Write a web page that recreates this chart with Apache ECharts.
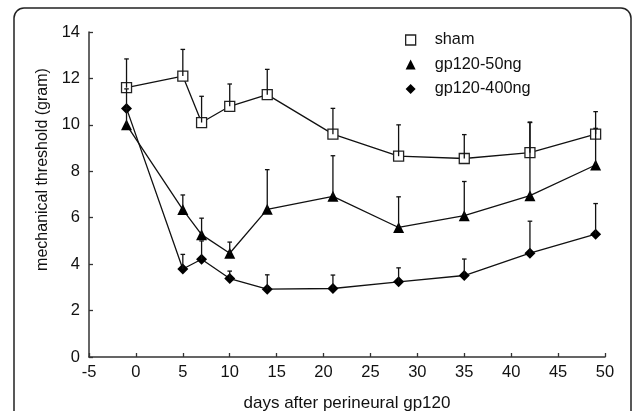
<!DOCTYPE html>
<html>
<head>
<meta charset="utf-8">
<script src="https://cdn.jsdelivr.net/npm/echarts@6/dist/echarts.min.js"></script>
<style>
html, body { margin: 0; padding: 0; background: #fff; }
#chart { width: 633px; height: 411px; }
</style>
</head>
<body>
<div id="chart"></div>
<script>
// days after perineural gp120
var days = [-1, 5, 7, 10, 14, 21, 28, 35, 42, 49];
// mean thresholds (gram)
var sham = [11.6, 12.1, 10.1, 10.8, 11.3, 9.6, 8.65, 8.55, 8.8, 9.6];
var gp50 = [10.0, 6.35, 5.27, 4.47, 6.36, 6.92, 5.58, 6.09, 6.95, 8.27];
var gp400 = [10.71, 3.79, 4.21, 3.38, 2.92, 2.95, 3.24, 3.51, 4.47, 5.29];
// upper error bars (SEM)
var shamErr = [1.24, 1.15, 1.13, 0.96, 1.09, 1.11, 1.35, 1.03, 1.32, 0.97];
var gp50Err = [0.7, 0.63, 0.71, 0.48, 1.71, 1.75, 1.32, 1.47, 3.15, 1.58];
var gp400Err = [0.84, 0.63, 0.79, 0.32, 0.62, 0.58, 0.6, 0.71, 1.38, 1.32];
var xTicks = [-5, 0, 5, 10, 15, 20, 25, 30, 35, 40, 45, 50];
var yTicks = [0, 2, 4, 6, 8, 10, 12, 14];

var font = 'Liberation Sans, Arial, sans-serif';

function pairs(vals) {
  return days.map(function (d, i) { return [d, vals[i]]; });
}
function errData(vals, errs) {
  return days.map(function (d, i) { return [d, vals[i], vals[i] + errs[i]]; });
}
function renderErr(params, api) {
  var p0 = api.coord([api.value(0), api.value(1)]);
  var p1 = api.coord([api.value(0), api.value(2)]);
  var st = { stroke: '#111', lineWidth: 1.3 };
  return {
    type: 'group',
    children: [
      { type: 'line', shape: { x1: p0[0], y1: p0[1], x2: p1[0], y2: p1[1] }, style: st },
      { type: 'line', shape: { x1: p1[0] - 2.3, y1: p1[1], x2: p1[0] + 2.3, y2: p1[1] }, style: st }
    ]
  };
}
function errSeries(vals, errs) {
  return {
    type: 'custom',
    renderItem: renderErr,
    data: errData(vals, errs),
    z: 5,
    silent: true
  };
}

var chart = echarts.init(document.getElementById('chart'));
chart.setOption({
  animation: false,
  backgroundColor: '#fff',
  textStyle: { fontFamily: font },
  graphic: [{
    type: 'rect',
    shape: { x: 14, y: 8, width: 617, height: 430, r: 10 },
    style: { fill: 'none', stroke: '#222', lineWidth: 1.5 },
    z: 0
  }],
  grid: { left: 89, right: 28, top: 32, bottom: 54, outerBoundsMode: 'none' },
  legend: {
    orient: 'vertical',
    left: 400,
    top: 27,
    itemWidth: 10,
    itemHeight: 10,
    itemGap: 8.5,
    textStyle: { fontSize: 16.3, color: '#111', fontFamily: font, padding: [0, 0, 0, 14] },
    data: [
      { name: 'sham', icon: 'rect', itemStyle: { color: '#fff', borderColor: '#222', borderWidth: 1.3 } },
      { name: 'gp120-50ng', icon: 'triangle', itemStyle: { color: '#000' } },
      { name: 'gp120-400ng', icon: 'diamond', itemStyle: { color: '#000' } }
    ]
  },
  xAxis: {
    type: 'value',
    min: xTicks[0],
    max: xTicks[xTicks.length - 1],
    interval: 5,
    name: 'days after perineural gp120',
    nameLocation: 'middle',
    nameGap: 38,
    nameTextStyle: { fontSize: 17, color: '#111', fontFamily: font },
    axisLine: { onZero: false, lineStyle: { color: '#333', width: 1.5 } },
    axisTick: { inside: true, length: 4, lineStyle: { color: '#333', width: 1.3 } },
    axisLabel: { fontSize: 16.5, color: '#111', margin: 7, fontFamily: font },
    splitLine: { show: false }
  },
  yAxis: {
    type: 'value',
    min: yTicks[0],
    max: yTicks[yTicks.length - 1],
    interval: 2,
    name: 'mechanical threshold (gram)',
    nameLocation: 'middle',
    nameGap: 38,
    nameTextStyle: { fontSize: 16, color: '#111', fontFamily: font, padding: [0, 0, 0, 50] },
    axisLine: { onZero: false, lineStyle: { color: '#333', width: 1.5 } },
    axisTick: { inside: true, length: 4, lineStyle: { color: '#333', width: 1.3 } },
    axisLabel: { fontSize: 16.5, color: '#111', margin: 9, fontFamily: font },
    splitLine: { show: false }
  },
  series: [
    {
      name: 'sham', type: 'line', data: pairs(sham),
      symbol: 'rect', symbolSize: 10, showAllSymbol: true,
      lineStyle: { color: '#111', width: 1.3 },
      itemStyle: { color: '#fff', borderColor: '#222', borderWidth: 1.3 },
      z: 3
    },
    {
      name: 'gp120-50ng', type: 'line', data: pairs(gp50),
      symbol: 'triangle', symbolSize: 11, showAllSymbol: true,
      lineStyle: { color: '#111', width: 1.3 },
      itemStyle: { color: '#000' },
      z: 3
    },
    {
      name: 'gp120-400ng', type: 'line', data: pairs(gp400),
      symbol: 'diamond', symbolSize: 11, showAllSymbol: true,
      lineStyle: { color: '#111', width: 1.3 },
      itemStyle: { color: '#000' },
      z: 3
    },
    errSeries(sham, shamErr),
    errSeries(gp50, gp50Err),
    errSeries(gp400, gp400Err)
  ]
});
</script>
</body>
</html>
